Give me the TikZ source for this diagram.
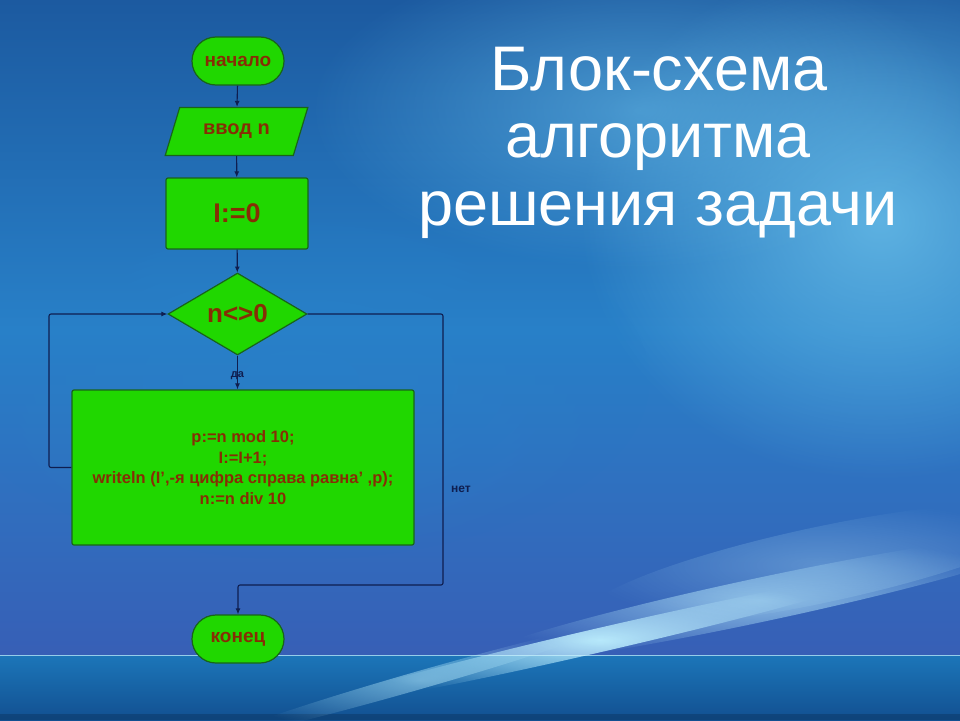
\documentclass[tikz,border=0pt]{standalone}
\usepackage{fontspec}
\setmainfont{Liberation Sans}
\usetikzlibrary{shapes.geometric,shapes.misc,arrows.meta,fadings}
\definecolor{bgtop}{RGB}{28,90,160}
\definecolor{bgmid}{RGB}{40,128,200}
\definecolor{bglow}{RGB}{55,95,182}
\definecolor{bgband}{RGB}{28,118,185}
\definecolor{bgbottom}{RGB}{18,80,145}
\definecolor{glow}{RGB}{100,185,230}
\definecolor{streak}{RGB}{190,240,255}
\definecolor{boxfill}{RGB}{32,215,0}
\definecolor{boxline}{RGB}{25,100,25}
\definecolor{boxtext}{RGB}{135,45,5}
\definecolor{wire}{RGB}{15,30,80}
\tikzfading[name=softglow, inner color=transparent!0, outer color=transparent!100]
\tikzset{
  blk/.style={draw=boxline, line width=1.2pt, fill=boxfill, text=boxtext,
    font=\bfseries, inner sep=0pt},
  term/.style={blk, rounded rectangle, minimum width=92pt, minimum height=48pt,
    font=\bfseries\fontsize{19}{21}\selectfont},
  io/.style={blk, trapezium, trapezium left angle=60, trapezium right angle=120,
    trapezium stretches=true, minimum width=143pt, minimum height=48pt,
    font=\bfseries\fontsize{20}{22}\selectfont},
  proc/.style={blk, rectangle, rounded corners=2pt},
  cond/.style={blk, diamond, aspect=1, minimum width=139pt, minimum height=82pt,
    font=\bfseries\fontsize{26}{28}\selectfont},
  conn/.style={draw=wire, line width=1.1pt, -{Latex[length=6pt,width=5pt]}},
  lbl/.style={text=wire, font=\bfseries\fontsize{11}{12}\selectfont, inner sep=1pt},
  title/.style={text=white, font=\fontsize{63}{67}\selectfont, anchor=base, inner sep=0pt},
  glowspot/.style={fill=#1, path fading=softglow},
  streakband/.style={fill=streak, path fading=softglow}
}
\begin{document}
\begin{tikzpicture}[x=1pt,y=-1pt]
\useasboundingbox (0,0) rectangle (960,720);
% ---------- background ----------
\fill[top color=bgtop, bottom color=bgmid] (0,0) rectangle (960,330);
\fill[top color=bgmid, bottom color=bglow] (0,330) rectangle (960,655);
\fill[glowspot=glow, opacity=0.9] (880,220) ellipse (300pt and 260pt);
\fill[glowspot=glow, opacity=0.6] (640,110) ellipse (330pt and 160pt);
\fill[glowspot=bgmid, opacity=0.6] (300,380) ellipse (350pt and 180pt);
\fill[top color=bgband, bottom color=bgbottom] (0,655) rectangle (960,720);
\fill[bgbottom!70!black, opacity=0.5] (0,714) rectangle (960,720);
% streaks
\fill[streakband, opacity=0.95, rotate around={13:(600,640)}] (600,640) ellipse (280pt and 12pt);
\fill[streakband, opacity=0.6, rotate around={12:(760,600)}] (760,600) ellipse (300pt and 22pt);
\fill[streakband, opacity=0.5, rotate around={16:(420,680)}] (420,680) ellipse (200pt and 9pt);
\fill[streakband, opacity=0.3, rotate around={12:(820,565)}] (820,565) ellipse (240pt and 38pt);
\draw[streak!80!white, opacity=0.7, line width=0.8pt] (0,655) -- (960,655);
% ---------- title ----------
\node[title] (t1) at (659,90) {Блок-схема};
\node[title] (t2) at (658,157) {алгоритма};
\node[title] (t3) at (658,225) {решения задачи};
% ---------- flowchart ----------
\node[term] (start) at (238,61) {начало};
\node[io] (input) at (236.5,131.5) {ввод n};
\node[proc, minimum width=142pt, minimum height=71pt,
      font=\bfseries\fontsize{27}{29}\selectfont] (init) at (237,213.5) {I:=0};
\node[cond] (test) at (237.5,314) {n<>0};
\node[proc, minimum width=342pt, minimum height=155pt, align=center,
      font=\bfseries\fontsize{16.5}{20.7}\selectfont] (body) at (243,467.5)
  {p:=n mod 10;\\I:=I+1;\\writeln (I',-я цифра справа равна' ,p);\\n:=n div 10};
\node[term] (stop) at (238,639) {конец};
\coordinate (loopL) at (49,0);
\coordinate (noR) at (443,0);
\coordinate (noD) at (0,585);
% connectors
\draw[conn] (start) -- (input);
\draw[conn] (input) -- (init);
\draw[conn] (init) -- (test);
\draw[conn] (test.south) -- node[lbl, pos=0.6] (yes) {да} (body.north -| test.south);
\draw[conn, rounded corners=2pt] (body.west) -- (body.west -| loopL) -- (test.west -| loopL) -- (test.west);
\draw[conn, rounded corners=2pt] (test.east) -- (test.east -| noR) -- (noR |- noD)
  -- (stop.north |- noD) -- (stop.north);
\node[lbl, font=\bfseries\fontsize{12}{13}\selectfont] (nolbl) at (461,489) {нет};
\end{tikzpicture}
\end{document}
